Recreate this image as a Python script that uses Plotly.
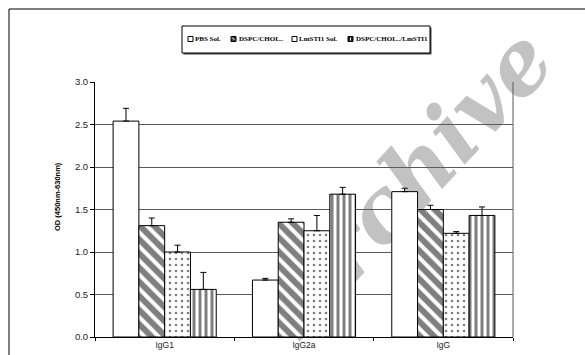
import plotly.graph_objects as go

# Antibody subclasses on the x axis
categories = ["IgG1", "IgG2a", "IgG"]

# Mean optical density per formulation
pbs_sol = [2.54, 0.67, 1.71]
dspc_chol = [1.31, 1.35, 1.50]
lmsti1_sol = [1.00, 1.25, 1.22]
dspc_chol_lmsti1 = [0.56, 1.68, 1.43]

# Upper error (SD) per formulation
pbs_err = [0.15, 0.02, 0.04]
dspc_err = [0.09, 0.04, 0.05]
lmsti1_err = [0.08, 0.18, 0.02]
combo_err = [0.20, 0.08, 0.10]

series_names = ["PBS Sol.", "DSPC/CHOL..", "LmSTI1 Sol.", "DSPC/CHOL../LmSTI1"]
y_ticks = [0.0, 0.5, 1.0, 1.5, 2.0, 2.5, 3.0]

W, H = 585, 355
ML, MR, MT, MB = 95, 72, 82, 18
PW, PH = W - ML - MR, H - MT - MB


def px_x(p):
    return (p - ML) / PW


def px_y(p):
    return (H - MB - p) / PH


patterns = [
    dict(shape=""),
    dict(shape="\\", fgcolor="black", bgcolor="white", size=10, solidity=0.6),
    dict(shape=".", fgcolor="black", bgcolor="white", size=6, solidity=0.16),
    dict(shape="|", fgcolor="black", bgcolor="white", size=6, solidity=0.5),
]
values = [pbs_sol, dspc_chol, lmsti1_sol, dspc_chol_lmsti1]
errors = [pbs_err, dspc_err, lmsti1_err, combo_err]

fig = go.Figure()
for name, vals, errs, pat in zip(series_names, values, errors, patterns):
    fig.add_trace(go.Bar(
        x=categories,
        y=vals,
        name=name,
        showlegend=False,
        marker=dict(color="white", line=dict(color="black", width=1), pattern=pat),
        error_y=dict(type="data", symmetric=False, array=errs,
                     arrayminus=[0] * len(errs), color="black",
                     thickness=1, width=3),
    ))

shapes = []
annotations = []

# watermark text behind the plot
shapes.append(dict(
    type="rect", xref="paper", yref="paper", layer="below",
    x0=px_x(305), x1=px_x(505), y0=px_y(276), y1=px_y(76),
    line=dict(width=0), fillcolor="rgba(0,0,0,0)",
    label=dict(text="Archive", textangle=-47, textposition="middle center",
               font=dict(family="DejaVu Serif", size=88, color="#c2c2c2",
                         weight="bold", style="italic")),
))

# outer frame (left and top edges)
shapes.append(dict(type="line", xref="paper", yref="paper",
                   x0=px_x(9), x1=px_x(9), y0=px_y(9), y1=px_y(360),
                   line=dict(color="black", width=1)))
shapes.append(dict(type="line", xref="paper", yref="paper",
                   x0=px_x(9), x1=px_x(590), y0=px_y(9), y1=px_y(9),
                   line=dict(color="black", width=1)))

# right edge of plot area
shapes.append(dict(type="line", xref="paper", yref="paper",
                   x0=1, x1=1, y0=0, y1=1,
                   line=dict(color="#5a5a5a", width=1)))

# legend box with drop shadow
shapes.append(dict(type="rect", xref="paper", yref="paper",
                   x0=px_x(183.5), x1=px_x(431.5), y0=px_y(54.5), y1=px_y(27.5),
                   line=dict(width=0), fillcolor="#444444"))
shapes.append(dict(type="rect", xref="paper", yref="paper",
                   x0=px_x(182), x1=px_x(430), y0=px_y(53), y1=px_y(26),
                   line=dict(color="black", width=1), fillcolor="white"))

legend_box_x = [188, 231, 292, 348]
legend_text_x = [193, 237, 297, 354]
legend_fill = ["white", "#3a3a3a", "white", "#222222"]
for name, bx, tx, fc in zip(series_names, legend_box_x, legend_text_x, legend_fill):
    shapes.append(dict(type="rect", xref="paper", yref="paper",
                       x0=px_x(bx), x1=px_x(bx + 5), y0=px_y(41.5), y1=px_y(36.5),
                       line=dict(color="black", width=1), fillcolor=fc))
    annotations.append(dict(
        text=name, xref="paper", yref="paper", x=px_x(tx), y=px_y(39),
        xanchor="left", yanchor="middle", showarrow=False,
        font=dict(family="Liberation Serif", size=7, color="black", weight="bold"),
    ))
# white streaks inside the small patterned legend swatches
shapes.append(dict(type="line", xref="paper", yref="paper",
                   x0=px_x(232), x1=px_x(234.5), y0=px_y(37.5), y1=px_y(40),
                   line=dict(color="white", width=1)))
shapes.append(dict(type="line", xref="paper", yref="paper",
                   x0=px_x(350.5), x1=px_x(350.5), y0=px_y(37.5), y1=px_y(40.5),
                   line=dict(color="white", width=1)))

# y axis title
annotations.append(dict(
    text="OD (450nm-630nm)", xref="paper", yref="paper",
    x=px_x(57), y=px_y(197), textangle=-90, showarrow=False,
    xanchor="center", yanchor="middle",
    font=dict(family="Liberation Sans", size=7.5, color="black", weight="bold"),
))

fig.update_layout(
    width=W, height=H,
    margin=dict(l=ML, r=MR, t=MT, b=MB, autoexpand=False),
    paper_bgcolor="white",
    plot_bgcolor="rgba(0,0,0,0)",
    barmode="group",
    bargap=0.26,
    bargroupgap=0,
    showlegend=False,
    font=dict(family="Liberation Sans", size=9, color="#222222"),
    shapes=shapes,
    annotations=annotations,
    xaxis=dict(
        type="category",
        showline=True, linecolor="black", linewidth=1,
        ticks="outside", tickson="boundaries", ticklen=3, tickcolor="black",
        showgrid=False,
        tickfont=dict(family="Liberation Sans", size=8.5, color="#222222"),
    ),
    yaxis=dict(
        range=[0, 3],
        tickvals=y_ticks,
        tickformat=".1f",
        showline=True, linecolor="black", linewidth=1,
        ticks="outside", ticklen=4, tickcolor="black",
        showgrid=True, gridcolor="#5a5a5a", gridwidth=1,
        zeroline=False,
        tickfont=dict(family="Liberation Sans", size=9.5, color="#222222"),
    ),
)

fig.write_html("out.html")
